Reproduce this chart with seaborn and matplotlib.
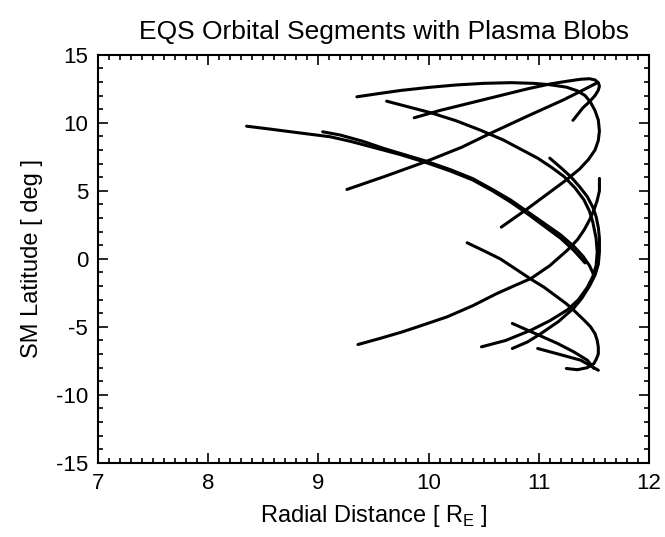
import matplotlib
matplotlib.use("Agg")
import matplotlib.pyplot as plt
from matplotlib.ticker import MultipleLocator
import seaborn as sns
import pandas as pd

# Orbital segments: radial distance (R_E) and SM latitude (deg)
seg1_r = [9.35, 9.55, 9.75, 10.00, 10.25, 10.50, 10.75, 10.95, 11.10, 11.25, 11.35, 11.42, 11.47, 11.51,
          11.54, 11.55, 11.54, 11.51, 11.45, 11.37, 11.25, 11.10, 10.90, 10.66]
seg1_lat = [11.91, 12.15, 12.38, 12.60, 12.78, 12.90, 12.95, 12.90, 12.80, 12.62, 12.35, 12.00, 11.50, 10.90,
            10.20, 9.40, 8.70, 8.00, 7.30, 6.60, 5.80, 4.90, 3.70, 2.33]

seg2_r = [9.87, 10.10, 10.40, 10.66, 10.90, 11.10, 11.26, 11.38, 11.46, 11.51, 11.54, 11.55, 11.54, 11.51,
          11.46, 11.40, 11.31]
seg2_lat = [10.37, 10.90, 11.50, 12.02, 12.50, 12.85, 13.06, 13.20, 13.24, 13.15, 12.95, 12.70, 12.40, 12.00,
            11.55, 11.10, 10.18]

seg3_r = [9.26, 9.60, 9.97, 10.30, 10.56, 10.90, 11.22, 11.40, 11.52]
seg3_lat = [5.10, 6.05, 7.13, 8.20, 9.22, 10.50, 11.67, 12.40, 12.90]

seg4_r = [9.62, 9.85, 10.02, 10.25, 10.47, 10.68, 10.85, 10.99, 11.12, 11.23, 11.33, 11.41, 11.46, 11.49,
          11.52, 11.53, 11.52, 11.49, 11.44, 11.36, 11.26, 11.10, 10.93, 10.70, 10.48]
seg4_lat = [11.59, 11.10, 10.74, 10.15, 9.46, 8.73, 8.00, 7.40, 6.70, 6.04, 5.20, 4.33, 3.50, 2.70,
            1.50, 0.50, -0.50, -1.30, -2.10, -3.00, -3.75, -4.55, -5.24, -6.00, -6.47]

seg5_r = [11.10, 11.20, 11.29, 11.37, 11.44, 11.49, 11.52, 11.54, 11.55, 11.55, 11.54, 11.51, 11.46, 11.39,
          11.32, 11.18, 11.02, 10.90, 10.76]
seg5_lat = [7.40, 6.70, 6.04, 5.30, 4.57, 3.80, 3.10, 2.30, 1.50, 0.50, -0.40, -1.20, -2.00, -2.90,
            -3.60, -4.60, -5.49, -6.10, -6.59]

seg6_r = [8.35, 8.55, 8.75, 9.11, 9.30, 9.50, 9.75, 9.97, 10.20, 10.40, 10.58, 10.74, 10.90, 11.05, 11.20,
          11.32, 11.42]
seg6_lat = [9.75, 9.55, 9.34, 8.97, 8.62, 8.19, 7.65, 7.10, 6.45, 5.80, 5.00, 4.20, 3.30, 2.40, 1.50,
            0.60, -0.30]

seg7_r = [9.04, 9.20, 9.40, 9.60, 9.97, 10.20, 10.40, 10.58, 10.745, 10.90, 11.05, 11.20, 11.32, 11.40,
          11.46, 11.50]
seg7_lat = [9.34, 9.10, 8.65, 8.10, 7.20, 6.55, 5.90, 5.10, 4.32, 3.45, 2.60, 1.75, 0.90, 0.20,
            -0.50, -1.20]

seg8_r = [10.35, 10.50, 10.65, 10.80, 10.93, 11.05, 11.15, 11.25, 11.32, 11.41, 11.47, 11.51, 11.53, 11.54,
          11.54, 11.52, 11.50, 11.44, 11.35, 11.25]
seg8_lat = [1.18, 0.60, 0.00, -0.80, -1.50, -2.10, -2.70, -3.30, -3.80, -4.50, -5.00, -5.50, -6.00, -6.50,
            -7.00, -7.40, -7.70, -8.00, -8.15, -8.06]

seg9_r = [9.36, 9.56, 9.75, 9.90, 10.17, 10.40, 10.62, 10.80, 10.93, 11.10, 11.26, 11.35, 11.41, 11.46,
          11.50, 11.53, 11.55, 11.55]
seg9_lat = [-6.30, -5.85, -5.40, -5.00, -4.26, -3.45, -2.55, -1.90, -1.44, -0.50, 0.64, 1.40, 2.11, 2.85,
            3.58, 4.30, 5.00, 5.91]

seg10_r = [10.76, 10.97, 11.17, 11.32, 11.44, 11.50]
seg10_lat = [-4.75, -5.50, -6.22, -6.85, -7.45, -8.05]

seg11_r = [10.99, 11.20, 11.38, 11.54]
seg11_lat = [-6.59, -7.05, -7.45, -8.19]

segments = [
    (seg1_r, seg1_lat), (seg2_r, seg2_lat), (seg3_r, seg3_lat), (seg4_r, seg4_lat),
    (seg5_r, seg5_lat), (seg6_r, seg6_lat), (seg7_r, seg7_lat), (seg8_r, seg8_lat),
    (seg9_r, seg9_lat), (seg10_r, seg10_lat), (seg11_r, seg11_lat),
]

rows = []
for k, (rr, ll) in enumerate(segments):
    for i, (r, l) in enumerate(zip(rr, ll)):
        rows.append({"seg": k, "order": i, "r": r, "lat": l})
df = pd.DataFrame(rows)

sns.set_theme(style="white")
plt.rcParams['font.family'] = ['Liberation Sans', 'DejaVu Sans']
plt.rcParams['axes.unicode_minus'] = False
plt.rcParams['text.color'] = 'black'
plt.rcParams['axes.labelcolor'] = 'black'
plt.rcParams['xtick.color'] = 'black'
plt.rcParams['ytick.color'] = 'black'

fig = plt.figure(figsize=(6.65, 5.37), dpi=100)
ax = fig.add_axes([0.147, 0.138, 0.829, 0.760])

sns.lineplot(data=df, x="r", y="lat", units="seg", estimator=None, sort=False,
             color="black", linewidth=2.2, ax=ax, legend=False)

ax.set_xlim(7, 12)
ax.set_ylim(-15, 15)
ax.xaxis.set_major_locator(MultipleLocator(1))
ax.xaxis.set_minor_locator(MultipleLocator(0.1))
ax.yaxis.set_major_locator(MultipleLocator(5))
ax.yaxis.set_minor_locator(MultipleLocator(1))
ax.tick_params(which="both", direction="in", top=True, right=True, bottom=True, left=True,
               color="black", width=1.2)
ax.tick_params(which="major", length=7, labelsize=16, pad=7, labelcolor="black")
ax.tick_params(which="minor", length=3.5)
for s in ax.spines.values():
    s.set_color("black")
    s.set_linewidth(1.5)

ax.set_xlabel("Radial Distance [ R$_\\mathregular{E}$ ]", fontsize=17, labelpad=7, color="black")
ax.set_ylabel("SM Latitude [ deg ]", fontsize=17, labelpad=9, color="black")
ax.set_title("EQS Orbital Segments with Plasma Blobs", fontsize=19, pad=11, color="black", x=0.52)

fig.savefig("out.png", dpi=100)
